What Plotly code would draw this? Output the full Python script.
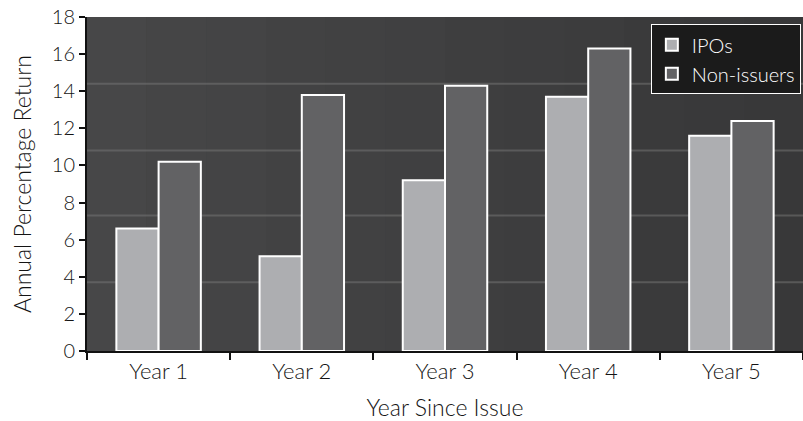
import plotly.graph_objects as go

categories = ["Year 1", "Year 2", "Year 3", "Year 4", "Year 5"]
ipos = [6.6, 5.1, 9.2, 13.7, 11.6]
non_issuers = [10.2, 13.8, 14.3, 16.3, 12.4]
y_ticks = [0, 2, 4, 6, 8, 10, 12, 14, 16, 18]
bg_lines = [3.7, 7.3, 10.8, 14.4]

FONT = "Lato"
TXT = "#141414"
W = 300

fig = go.Figure()
fig.add_trace(go.Bar(
    x=categories, y=ipos, name="IPOs",
    marker=dict(color="#adaeb1", line=dict(color="#ffffff", width=2)),
))
fig.add_trace(go.Bar(
    x=categories, y=non_issuers, name="Non-issuers",
    marker=dict(color="#626264", line=dict(color="#ffffff", width=2)),
))

shapes = []
n = 12
for i in range(n):
    t = i / (n - 1)
    c = int(0x47 - (0x47 - 0x38) * t)
    shapes.append(dict(type="rect", xref="paper", yref="paper",
                       x0=i / n, x1=(i + 1) / n, y0=0, y1=1,
                       fillcolor=f"rgb({c},{c},{c+1})", line=dict(width=0),
                       layer="below"))
for yv in bg_lines:
    shapes.append(dict(type="line", xref="paper", yref="y", x0=0, x1=1,
                       y0=yv, y1=yv, line=dict(color="rgba(120,120,120,0.5)", width=2),
                       layer="below"))

fig.update_layout(
    width=803, height=421,
    margin=dict(l=87, r=0, t=17, b=70),
    paper_bgcolor="#ffffff",
    plot_bgcolor="#404142",
    barmode="group",
    bargap=0.41,
    bargroupgap=0,
    font=dict(family=FONT, color=TXT, size=20, weight=W),
    shapes=shapes,
    showlegend=True,
    legend=dict(
        x=0.997, y=0.978, xanchor="right", yanchor="top",
        bgcolor="#1b1b1b", bordercolor="#ffffff", borderwidth=1,
        font=dict(family=FONT, color="#ffffff", size=20, weight=W),
        itemsizing="constant",
        tracegroupgap=0,
    ),
    xaxis=dict(
        showgrid=False, zeroline=False,
        showline=True, linecolor="#111111", linewidth=2,
        ticks="outside", tickson="boundaries", ticklen=7, tickwidth=1.5, tickcolor="#111111",
        tickfont=dict(family=FONT, size=22, color=TXT, weight=W),
        title=dict(text="Year Since Issue", font=dict(family=FONT, size=23, color=TXT, weight=W), standoff=16),
    ),
    yaxis=dict(
        range=[0, 18], tickvals=y_ticks,
        showgrid=False, zeroline=False,
        showline=True, linecolor="#111111", linewidth=2,
        ticks="outside", ticklen=6, tickwidth=1.5, tickcolor="#111111",
        tickfont=dict(family=FONT, size=20, color=TXT, weight=W),
        title=dict(text="Annual Percentage Return", font=dict(family=FONT, size=23, color=TXT, weight=W), standoff=14),
    ),
)

fig.write_html("out.html")
